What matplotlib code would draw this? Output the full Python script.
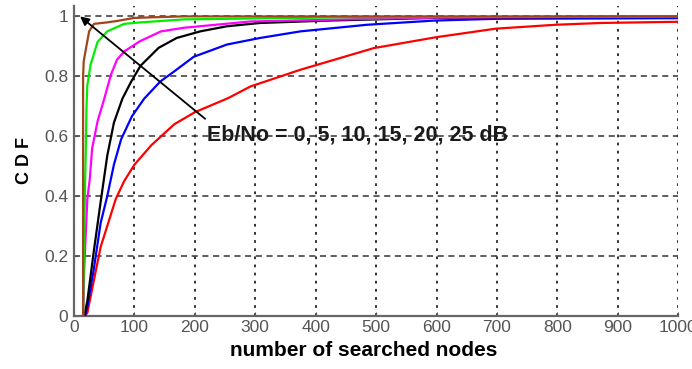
import matplotlib
matplotlib.use("Agg")
import matplotlib.pyplot as plt

# ---------------------------------------------------------------------------
# Data
# ---------------------------------------------------------------------------
red_x = [18, 22, 33, 44, 55, 69, 83, 100, 128, 166, 200, 255, 292, 375, 496, 598, 698, 797, 872, 1000]
red_y = [0, 0.01, 0.12, 0.23, 0.30, 0.39, 0.45, 0.505, 0.57, 0.64, 0.68, 0.727, 0.766, 0.822, 0.894, 0.93, 0.959, 0.972, 0.978, 0.982]

blue_x = [18, 22, 33, 44, 55, 66, 78, 96, 116, 143, 165, 198, 253, 308, 375, 485, 596, 700, 1000]
blue_y = [0, 0.03, 0.16, 0.31, 0.40, 0.505, 0.59, 0.667, 0.725, 0.783, 0.815, 0.865, 0.906, 0.928, 0.95, 0.972, 0.986, 0.992, 0.994]

black_x = [17, 22, 33, 44, 55, 66, 80, 94, 110, 140, 170, 209, 253, 308, 420, 600, 1000]
black_y = [0, 0.05, 0.22, 0.38, 0.535, 0.645, 0.725, 0.78, 0.835, 0.895, 0.928, 0.95, 0.967, 0.978, 0.986, 0.995, 1.0]

magenta_x = [15, 17, 22, 26, 30, 39, 50, 61, 71, 83, 109, 144, 182, 250, 292, 450, 600, 1000]
magenta_y = [0, 0.165, 0.39, 0.456, 0.56, 0.65, 0.725, 0.805, 0.855, 0.883, 0.917, 0.95, 0.962, 0.975, 0.983, 0.99, 0.996, 1.0]

green_x = [15, 17, 19.5, 20.5, 22, 27.5, 39, 55, 83, 110, 182, 300, 450, 1000]
green_y = [0, 0.3, 0.56, 0.69, 0.77, 0.84, 0.915, 0.95, 0.975, 0.98, 0.99, 0.993, 0.997, 1.0]

brown_x = [15, 15, 16, 19.5, 25, 33, 55, 72, 100, 180, 1000]
brown_y = [0, 0.80, 0.85, 0.89, 0.95, 0.975, 0.98, 0.985, 0.995, 1.0, 1.0]

x_ticks = [0, 100, 200, 300, 400, 500, 600, 700, 800, 900, 1000]
y_ticks = [0, 0.2, 0.4, 0.6, 0.8, 1]
y_tick_labels = ["0", "0.2", "0.4", "0.6", "0.8", "1"]

# ---------------------------------------------------------------------------
# Plot
# ---------------------------------------------------------------------------
plt.rcParams["font.family"] = ["Liberation Sans", "DejaVu Sans"]

fig = plt.figure(figsize=(6.92, 3.69), dpi=100)
ax = fig.add_axes([0.107, 0.144, 0.873, 0.84])

series = [
    (red_x, red_y, "#ff0000"),
    (blue_x, blue_y, "#0000ff"),
    (black_x, black_y, "#000000"),
    (magenta_x, magenta_y, "#ff00ff"),
    (green_x, green_y, "#00ee00"),
    (brown_x, brown_y, "#a0441c"),
]
for xs, ys, col in series:
    ax.plot(xs, ys, color=col, linewidth=1.6, zorder=3)

ax.set_xlim(0, 1000)
ax.set_ylim(0, 1.035)
ax.set_xticks(x_ticks)
ax.set_yticks(y_ticks)
ax.set_yticklabels(y_tick_labels)

# grid: dotted verticals, dashed horizontals
ax.xaxis.grid(True, linestyle=(0, (1.5, 3)), color="#222222", linewidth=1.3)
ax.yaxis.grid(True, linestyle=(0, (4, 3)), color="#333333", linewidth=1.1)
ax.set_axisbelow(True)

for side in ("top", "right"):
    ax.spines[side].set_visible(False)
for side in ("left", "bottom"):
    ax.spines[side].set_color("#666666")
    ax.spines[side].set_linewidth(1.6)

ax.tick_params(direction="in", length=3, colors="#555555", labelsize=12.5,
               labelcolor="#555555")
ax.tick_params(axis="x", pad=3)
ax.tick_params(axis="y", pad=4)

ax.set_xlabel("number of searched nodes", fontsize=15, fontweight="bold",
              labelpad=1)
ax.xaxis.set_label_coords(0.48, -0.08)
ax.set_ylabel("C D F", fontsize=13, fontweight="bold", labelpad=8)

ax.annotate("", xy=(10, 1.0), xytext=(217, 0.658),
            arrowprops=dict(arrowstyle="-|>", color="black", lw=1.3,
                            mutation_scale=13, shrinkA=0, shrinkB=0),
            zorder=5)
ax.text(220, 0.604, "Eb/No = 0, 5, 10, 15, 20, 25 dB", fontsize=15.5,
        fontweight="bold", color="#1a1a1a", va="center", ha="left", zorder=6)

fig.savefig("out.png", dpi=100)
